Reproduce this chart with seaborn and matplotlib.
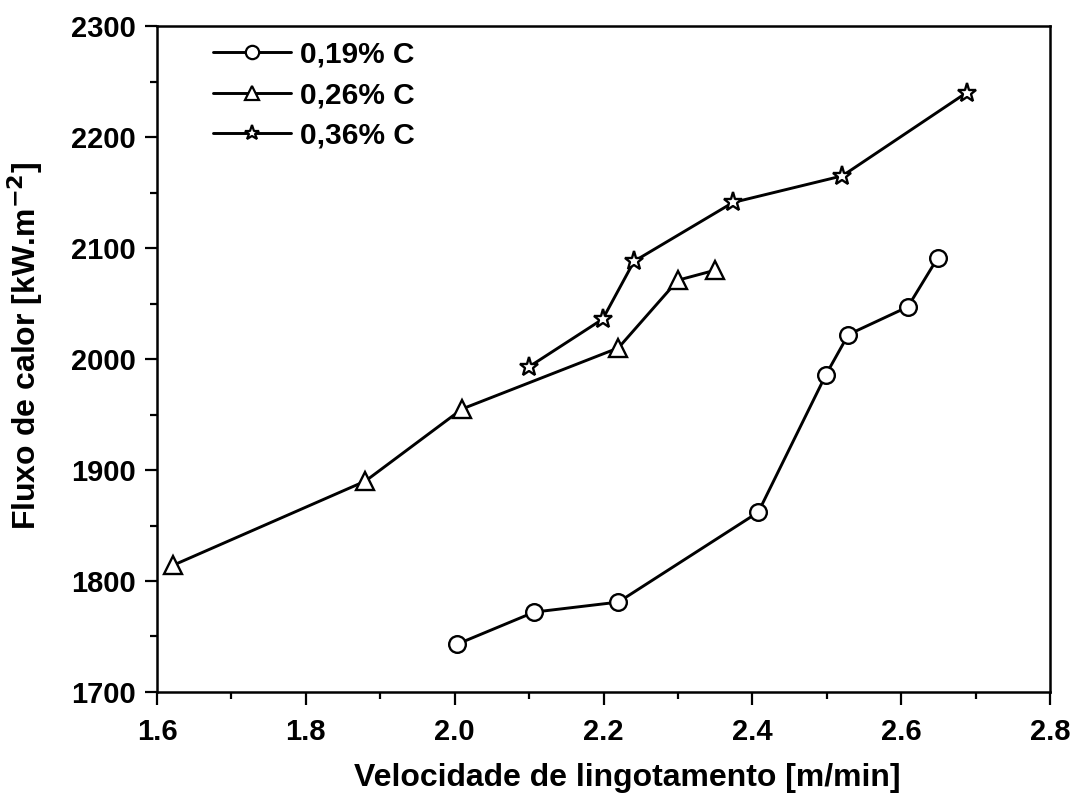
import matplotlib
matplotlib.use("Agg")
import matplotlib.pyplot as plt
import seaborn as sns
import pandas as pd
from matplotlib.ticker import MultipleLocator, FormatStrFormatter
from matplotlib.lines import Line2D

sns.set_theme(style="white")
plt.rcParams['font.family'] = ['Liberation Sans', 'DejaVu Sans']
plt.rcParams['font.weight'] = 'bold'
plt.rcParams['text.color'] = 'black'
plt.rcParams['axes.labelcolor'] = 'black'
plt.rcParams['xtick.color'] = 'black'
plt.rcParams['ytick.color'] = 'black'
plt.rcParams['mathtext.default'] = 'bf'

# Data
x_019 = [2.003, 2.107, 2.220, 2.408, 2.499, 2.529, 2.609, 2.649]
y_019 = [1743, 1772, 1781, 1862, 1986, 2022, 2047, 2091]

x_026 = [1.621, 1.880, 2.010, 2.220, 2.300, 2.350]
y_026 = [1814, 1890, 1955, 2010, 2071, 2080]

x_036 = [2.100, 2.199, 2.241, 2.374, 2.521, 2.688]
y_036 = [1993, 2036, 2088, 2141, 2165, 2240]

labels = ["0,19% C", "0,26% C", "0,36% C"]
markers = ["o", "^", "*"]
msizes = [12, 13, 14]

fig = plt.figure(figsize=(10.75, 7.94), dpi=100)
ax = fig.add_axes([157/1075, 102/794, 893/1075, 666/794])

series = [(x_019, y_019), (x_026, y_026), (x_036, y_036)]
handles = []
for (xs, ys), lab, mk, ms in zip(series, labels, markers, msizes):
    df = pd.DataFrame({"x": xs, "y": ys})
    sns.lineplot(data=df, x="x", y="y", sort=False, ax=ax, color="black",
                 linewidth=2.1, marker=mk, markersize=ms, markerfacecolor="white",
                 markeredgecolor="black", markeredgewidth=1.7, legend=False)
    handles.append(Line2D([], [], color="black", linewidth=2.1, marker=mk,
                          markersize=ms * 0.8, markerfacecolor="white",
                          markeredgecolor="black", markeredgewidth=1.6))

ax.set_xlim(1.6, 2.8)
ax.set_ylim(1700, 2300)
ax.xaxis.set_major_locator(MultipleLocator(0.2))
ax.xaxis.set_minor_locator(MultipleLocator(0.1))
ax.yaxis.set_major_locator(MultipleLocator(100))
ax.yaxis.set_minor_locator(MultipleLocator(50))
ax.xaxis.set_major_formatter(FormatStrFormatter('%.1f'))

for sp in ax.spines.values():
    sp.set_visible(True)
    sp.set_color("black")
    sp.set_linewidth(1.8)

ax.tick_params(axis='both', which='major', direction='out', length=9, width=1.6,
               labelsize=21, color='black', labelcolor='black')
ax.tick_params(axis='x', which='major', pad=10)
ax.tick_params(axis='y', which='major', pad=6)
ax.tick_params(axis='both', which='minor', direction='out', length=5, width=1.6,
               color='black')
ax.tick_params(bottom=True, left=True, top=False, right=False)
ax.tick_params(which='minor', bottom=True, left=True, top=False, right=False)
for lbl in ax.get_xticklabels() + ax.get_yticklabels():
    lbl.set_fontweight('bold')

ax.set_xlabel("Velocidade de lingotamento [m/min]", fontsize=23, fontweight='bold')
ax.xaxis.set_label_coords(0.527, -0.106)
ax.set_ylabel("Fluxo de calor [kW.m$^{-2}$]", fontsize=23, fontweight='bold')
ax.yaxis.set_label_coords(-0.125, 0.52)

leg = ax.legend(handles, labels, loc="upper left", frameon=False,
                prop={'size': 21.5, 'weight': 'bold'}, handlelength=2.6,
                bbox_to_anchor=(0.063, 0.978), borderaxespad=0, borderpad=0,
                labelspacing=0.42, handletextpad=0.3)

fig.savefig("out.png", dpi=100, facecolor="white")
